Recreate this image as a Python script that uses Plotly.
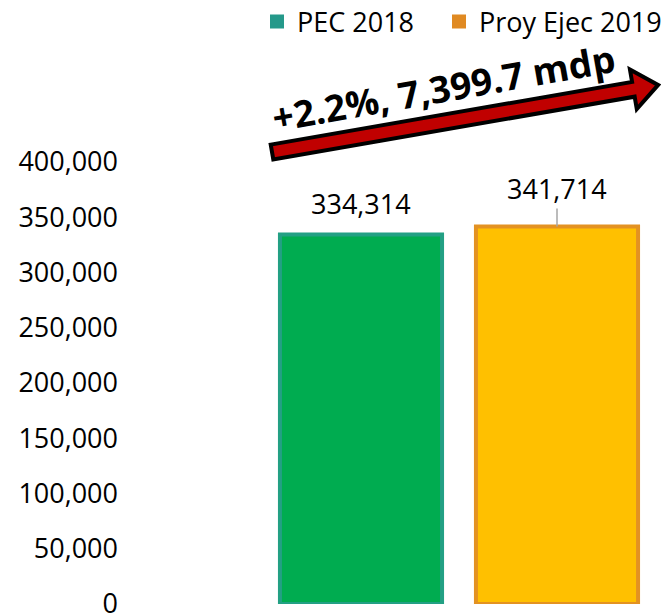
import numpy as np
import plotly.graph_objects as go

categories = ["PEC 2018", "Proy Ejec 2019"]
values = [334314, 341714]
label_texts = ["334,314", "341,714"]
tick_vals = [0, 50000, 100000, 150000, 200000, 250000, 300000, 350000, 400000]
tick_text = ["0", "50,000", "100,000", "150,000", "200,000", "250,000", "300,000", "350,000", "400,000"]
change_text = "+2.2%, 7,399.7 mdp"

fill_colors = ["#00ac50", "#ffc000"]
edge_colors = ["#23a084", "#e39222"]
legend_colors = ["#25998a", "#e08a22"]

OFF = 8  # default page body margin
W, H = 669 - OFF, 616 - OFF
# plot area in page pixels
P_LEFT, P_RIGHT, P_TOP, P_BOTTOM = 122, 655, 162, 604
ML, MT = P_LEFT - OFF, P_TOP - OFF
MR, MB = W - (P_RIGHT - OFF), H - (P_BOTTOM - OFF)
PW, PH = W - ML - MR, H - MT - MB

def px(x):
    return (x - OFF - ML) / PW

def py(y):
    return (P_BOTTOM - y) / PH

FONT = "Open Sans"
fig = go.Figure()
for i, (c, v) in enumerate(zip(categories, values)):
    fig.add_trace(go.Bar(x=[c], y=[v], marker=dict(color=fill_colors[i], line=dict(color=edge_colors[i], width=4)),
                         showlegend=False, hoverinfo="skip"))
legend_ids = ["legend", "legend2"]
for i, c in enumerate(categories):
    fig.add_trace(go.Bar(x=[None], y=[None], name=c, legend=legend_ids[i],
                         marker=dict(color=legend_colors[i], line=dict(color=legend_colors[i], width=2))))

# data labels
fig.add_annotation(x=categories[0], y=values[0], text=label_texts[0], showarrow=False, yanchor="middle", yshift=31,
                   font=dict(size=27, color="#000", family=FONT))
fig.add_annotation(x=categories[1], y=values[1], text=label_texts[1], showarrow=True, ax=0, ay=-38, arrowhead=0,
                   arrowcolor="#a6a6a6", arrowwidth=1.5, standoff=0, font=dict(size=27, color="#000", family=FONT))

# decorative arrow
start = np.array([272.0, 152.0])
tip = np.array([658.0, 85.0])
d = tip - start
u = d / np.linalg.norm(d)
n = np.array([-u[1], u[0]])
base = tip - 25 * u
w, h = 7.5, 20.0
pts = [start - w * n, base - w * n, base - h * n, tip, base + h * n, base + w * n, start + w * n]
path = "M " + " L ".join(f"{px(p[0]):.5f},{py(p[1]):.5f}" for p in pts) + " Z"
fig.add_shape(type="path", path=path, xref="paper", yref="paper", fillcolor="#c00000",
              line=dict(color="#000000", width=4), layer="above")
fig.add_annotation(x=px(443), y=py(88), xref="paper", yref="paper", text="<b>" + change_text + "</b>",
                   showarrow=False, textangle=-10, xanchor="center", yanchor="middle",
                   font=dict(size=37, color="#000", family=FONT))

legend_style = dict(orientation="h", yanchor="middle", xanchor="left", y=py(22),
                    font=dict(size=27, color="#000", family=FONT), itemwidth=30,
                    bgcolor="rgba(0,0,0,0)")
fig.update_layout(
    width=W, height=H,
    margin=dict(l=ML, r=MR, t=MT, b=MB, autoexpand=False),
    plot_bgcolor="white", paper_bgcolor="white",
    barmode="overlay", bargap=0.173,
    font=dict(family=FONT, size=27, color="#000"),
    xaxis=dict(domain=[px(263), 1], showticklabels=False, showgrid=False, zeroline=False, showline=False,
               ticks="", automargin=False),
    yaxis=dict(range=[0, 400000], tickvals=tick_vals, ticktext=tick_text, showgrid=False, zeroline=False,
               showline=False, anchor="free", position=0, ticks="", ticklabelstandoff=4, automargin=False,
               ticklabeloverflow="allow", tickfont=dict(size=27, color="#000", family=FONT)),
    legend=dict(x=px(257), **legend_style),
    legend2=dict(x=px(439), **legend_style),
)
fig.write_html("out.html")
